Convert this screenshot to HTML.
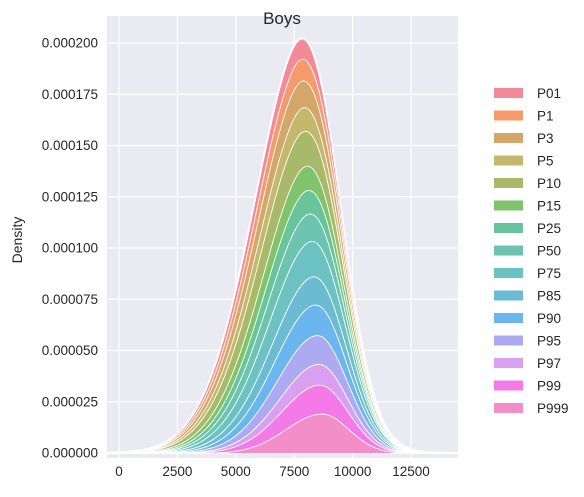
<!DOCTYPE html>
<html><head><meta charset="utf-8">
<style>
body{margin:0;background:#fff;font-family:"Liberation Sans",sans-serif;}
svg text{font-family:"Liberation Sans",sans-serif;fill:#262626;}
</style></head>
<body>
<svg id="chart" width="584" height="492" xmlns="http://www.w3.org/2000/svg"></svg>
<script>
const categories=["P01","P1","P3","P5","P10","P15","P25","P50","P75","P85","P90","P95","P97","P99","P999"];
const colors=["#f4899a","#f59a6a","#d4a66a","#c3b86c","#a8ba6a","#7fc46a","#68c49a","#6cc3b0","#6cc2c2","#6bbcd2","#6bb6ee","#adaaf2","#d9a0f2","#f47ae8","#f48ec8"];
const peaks=[10.2e-6,11.1e-6,13.7e-6,12.2e-6,18.3e-6,12.7e-6,12.2e-6,14.2e-6,17.8e-6,14.2e-6,15.2e-6,14.2e-6,10.2e-6,14.2e-6,19.2e-6];
const means=[7400,7400,7400,7400,7400,7500,7600,7700,7900,8000,8150,8300,8450,8450,8700];
const sdLeft=[2200,2200,2200,2200,2200,2200,2150,2100,2100,2050,2000,1950,1900,1800,1550];
const sdRight=[1650,1650,1650,1650,1650,1600,1600,1550,1550,1500,1450,1400,1350,1300,1150];
const xTicks=[0,2500,5000,7500,10000,12500];
const yTicks=[0,0.000025,0.00005,0.000075,0.0001,0.000125,0.00015,0.000175,0.0002];

const svg=document.getElementById('chart');
const NS="http://www.w3.org/2000/svg";
const L=107,R=458,T=16,B=458;
const xs=v=>119+v*0.023364;
const ys=v=>453-v/0.000025*51.25;
function mk(tag,attrs,parent){const e=document.createElementNS(NS,tag);for(const k in attrs)e.setAttribute(k,attrs[k]);(parent||svg).appendChild(e);return e;}

const bg=mk('rect',{x:L,y:T,width:R-L,height:B-T,fill:'#eaeaf2'});


const defs=mk('defs',{});
const cp=mk('clipPath',{id:'clip'},defs);
mk('rect',{x:L,y:T,width:R-L,height:B-T},cp);

xTicks.forEach(t=>{
  const g=mk('line',{x1:xs(t),x2:xs(t),y1:T,y2:B,stroke:'#fff','stroke-width':1.2});
  
  
  const tx=mk('text',{x:xs(t),y:476,'text-anchor':'middle','font-size':13.5});
  tx.textContent=t;
  
  
});
yTicks.forEach(t=>{
  const g=mk('line',{x1:L,x2:R,y1:ys(t),y2:ys(t),stroke:'#fff','stroke-width':1.2});
  
  
  const tx=mk('text',{x:98,y:ys(t)+4.5,'text-anchor':'end','font-size':13.5});
  tx.textContent=t.toFixed(6);
  
  
});

function dens(i,x){const sd=x<means[i]?sdLeft[i]:sdRight[i];const z=(x-means[i])/sd;return peaks[i]*Math.exp(-0.5*z*z);}
const grid=[];for(let x=-600;x<=14600;x+=50)grid.push(x);
const n=categories.length;
let base=grid.map(()=>0);
const layers=[];
for(let i=n-1;i>=0;i--){
  const top=grid.map((x,k)=>base[k]+dens(i,x));
  layers.push({i,bottom:base,top});
  base=top;
}
const gl=mk('g',{'clip-path':'url(#clip)'});


layers.forEach(({i,bottom,top})=>{
  let d='M'+grid.map((x,k)=>xs(x).toFixed(2)+','+ys(top[k]).toFixed(2)).join('L');
  d+='L'+grid.map((x,k)=>[xs(x).toFixed(2)+','+ys(bottom[k]).toFixed(2)]).reverse().join('L')+'Z';
  const p=mk('path',{d,fill:colors[i],stroke:'none'},gl);
  
  
  const ln=mk('path',{d:'M'+grid.map((x,k)=>xs(x).toFixed(2)+','+ys(top[k]).toFixed(2)).join('L'),fill:'none',stroke:'#fff','stroke-width':1.8},gl);
  
  
});

const title=mk('text',{x:282,y:24,'text-anchor':'middle','font-size':17});
title.textContent='Boys';


const yl=mk('text',{x:22,y:240,'text-anchor':'middle','font-size':14,transform:'rotate(-90 22 240)'});
yl.textContent='Density';



const lg=mk('g',{});


categories.forEach((c,i)=>{
  const y=93+i*22.5;
  const r=mk('rect',{x:494,y:y-5,width:29,height:10,fill:colors[i]},lg);
  
  
  const t=mk('text',{x:537,y:y+5,'font-size':13.5},lg);
  t.textContent=c;
  
  
});
</script>
</body></html>
